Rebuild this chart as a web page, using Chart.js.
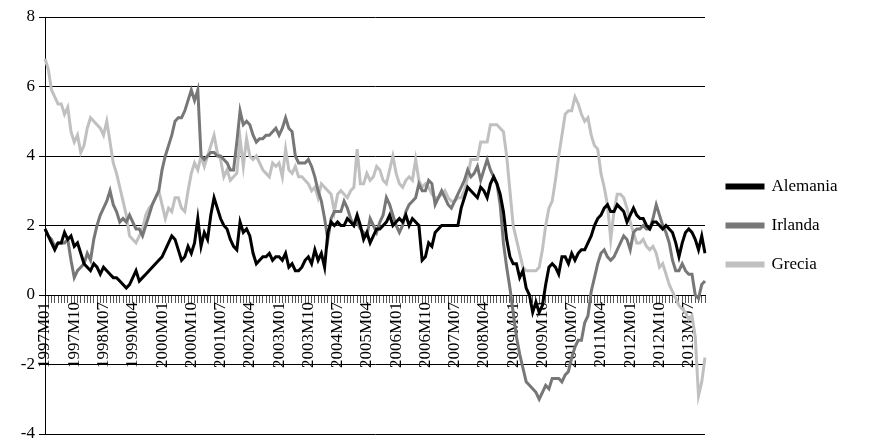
<!DOCTYPE html>
<html><head><meta charset="utf-8">
<script src="https://cdn.jsdelivr.net/npm/chart.js@4"></script>
<style>html,body{margin:0;padding:0;background:#fff}#w{width:880px;height:443px}</style>
</head><body><div id="w"><canvas id="c"></canvas></div>
<script>
const years = [1997,1998,1999,2000,2001,2002,2003,2004,2005,2006,2007,2008,2009,2010,2011,2012,2013];
const categories = [];
years.forEach(y=>{for(let m=1;m<=12;m++)categories.push(y+'M'+(m<10?'0':'')+m);});
const alemania = [
1.9,1.7,1.5,1.3,1.5,1.5,1.8,1.6,1.7,1.4,1.5,1.2,
0.9,0.8,0.7,0.9,0.8,0.6,0.8,0.7,0.6,0.5,0.5,0.4,
0.3,0.2,0.3,0.5,0.7,0.4,0.5,0.6,0.7,0.8,0.9,1.0,
1.1,1.3,1.5,1.7,1.6,1.3,1.0,1.1,1.4,1.2,1.5,2.2,
1.4,1.8,1.6,2.3,2.8,2.5,2.2,2.0,1.9,1.6,1.4,1.3,
2.1,1.8,1.9,1.7,1.2,0.9,1.0,1.1,1.1,1.2,1.0,1.1,
1.1,1.0,1.2,0.8,0.9,0.7,0.7,0.8,1.0,1.1,0.9,1.3,
1.0,1.2,0.8,1.8,2.1,2.0,2.1,2.0,2.0,2.2,2.1,2.0,
2.3,2.0,1.6,1.8,1.5,1.7,1.9,1.9,2.0,2.1,2.3,2.0,
2.1,2.2,2.1,2.3,2.0,2.2,2.1,2.0,1.0,1.1,1.5,1.4,
1.8,1.9,2.0,2.0,2.0,2.0,2.0,2.0,2.5,2.8,3.1,3.0,
2.9,2.8,3.1,3.0,2.8,3.2,3.4,3.2,2.9,2.4,1.6,1.1,
0.9,0.9,0.5,0.7,0.2,0.0,-0.5,-0.2,-0.5,-0.3,0.3,0.8,
0.9,0.8,0.6,1.1,1.1,0.9,1.2,1.0,1.2,1.3,1.3,1.5,
1.7,2.0,2.2,2.3,2.5,2.6,2.4,2.4,2.6,2.5,2.4,2.1,
2.3,2.5,2.3,2.2,2.2,2.0,1.9,2.1,2.1,2.0,1.9,2.0,
1.9,1.8,1.5,1.1,1.5,1.8,1.9,1.8,1.6,1.3,1.7,1.2];
const irlanda = [
1.9,1.7,1.6,1.4,1.5,1.5,1.5,1.6,1.0,0.5,0.7,0.8,
0.9,1.2,1.0,1.6,2.0,2.3,2.5,2.7,3.0,2.6,2.4,2.1,
2.2,2.1,2.3,2.1,1.9,1.9,1.7,2.0,2.3,2.6,2.8,3.0,
3.6,4.0,4.3,4.6,5.0,5.1,5.1,5.3,5.6,5.9,5.6,5.9,
4.0,3.9,4.0,4.1,4.1,4.0,4.0,3.9,3.8,3.6,3.6,4.4,
5.3,4.9,5.0,4.9,4.6,4.4,4.5,4.5,4.6,4.6,4.7,4.8,
4.6,4.8,5.1,4.8,4.7,4.0,3.8,3.8,3.8,3.9,3.7,3.4,
3.0,2.7,2.2,1.6,2.2,2.4,2.4,2.4,2.7,2.5,2.2,2.0,
2.1,1.9,1.8,1.7,2.2,2.0,1.8,2.1,2.3,2.8,2.6,2.3,
2.0,1.8,2.0,2.4,2.6,2.7,2.8,3.2,3.0,3.0,3.3,3.2,
2.6,2.8,3.0,2.8,2.6,2.5,2.7,2.9,3.1,3.3,3.6,3.4,
3.5,3.7,3.3,3.6,3.9,3.6,3.4,3.2,2.6,1.5,0.8,0.2,
-0.5,-1.2,-1.7,-2.1,-2.5,-2.6,-2.7,-2.8,-3.0,-2.8,-2.6,-2.7,
-2.4,-2.4,-2.4,-2.5,-2.3,-2.2,-1.8,-1.5,-1.3,-1.3,-0.8,-0.6,
0.1,0.5,0.9,1.2,1.3,1.1,1.0,1.1,1.3,1.5,1.7,1.6,
1.3,1.8,1.9,1.9,2.0,1.9,1.9,2.2,2.6,2.3,2.0,1.8,
1.5,1.0,0.7,0.7,0.9,0.7,0.6,0.6,0.0,-0.1,0.3,0.4];
const grecia = [
6.8,6.5,5.9,5.7,5.5,5.5,5.2,5.4,4.7,4.4,4.6,4.1,
4.3,4.8,5.1,5.0,4.9,4.8,4.6,5.0,4.4,3.8,3.5,3.1,
2.7,2.3,1.7,1.6,1.5,1.7,1.9,2.3,2.5,2.6,2.8,3.0,
2.6,2.2,2.5,2.4,2.8,2.8,2.5,2.4,3.0,3.5,3.8,3.6,
4.0,3.7,4.0,4.3,4.6,4.1,3.9,3.4,3.6,3.3,3.4,3.5,
4.5,3.7,4.5,4.0,3.9,4.0,3.8,3.6,3.5,3.4,3.8,3.7,
3.8,3.4,4.2,3.6,3.5,3.7,3.4,3.4,3.3,3.2,3.0,3.1,
2.8,3.2,3.1,3.0,2.9,2.4,2.9,3.0,2.9,2.8,3.0,3.1,
4.2,3.2,3.2,3.5,3.3,3.4,3.7,3.6,3.3,3.2,3.6,4.0,
3.5,3.2,3.1,3.3,3.4,3.3,3.9,3.3,3.1,3.2,3.1,2.9,
2.8,2.8,2.9,3.0,2.8,2.7,2.7,2.8,2.8,3.0,3.4,3.9,
3.9,3.9,4.4,4.4,4.4,4.9,4.9,4.9,4.8,4.7,4.0,3.0,
2.0,1.6,1.2,0.8,0.7,0.7,0.7,0.7,0.8,1.3,2.0,2.5,
2.7,3.3,4.0,4.6,5.2,5.3,5.3,5.7,5.5,5.2,5.0,5.1,
4.6,4.3,4.2,3.5,3.1,2.6,1.6,2.4,2.9,2.9,2.8,2.5,
2.1,1.8,1.5,1.5,1.6,1.4,1.3,1.4,1.2,0.8,0.9,0.6,
0.3,0.1,-0.1,-0.3,-0.4,-0.5,-0.7,-0.6,-1.2,-2.9,-2.5,-1.8];
const yTicks = [-4,-2,0,2,4,6,8];
const font = {family:'"Liberation Serif", "Times New Roman", serif', size:17};
const mk = (label,data,color)=>({label,data,borderColor:color,backgroundColor:color,borderWidth:3,pointRadius:0,tension:0,fill:false});
const widenLegend = {id:'widenLegend', beforeLayout(chart){
  const lg=chart.legend; if(lg && !lg._wrapped){const f=lg.fit.bind(lg); lg.fit=function(){f(); this.width=175; this.right=this.left+175;}; lg._wrapped=true;}
}};
new Chart(document.getElementById('c'),{
 type:'line',
 data:{labels:categories,datasets:[mk('Alemania',alemania,'#000000'),mk('Irlanda',irlanda,'#777777'),mk('Grecia',grecia,'#c0c0c0')]},
 plugins:[widenLegend],
 options:{
  responsive:true,maintainAspectRatio:false,animation:false,
  layout:{padding:{top:17,bottom:9,left:0,right:0}},
  plugins:{tooltip:{enabled:false},
   legend:{position:'right',align:'center',labels:{color:'#000',font,boxWidth:36,boxHeight:3,padding:22}}},
  scales:{
   x:{position:{y:0},offset:false,
      grid:{drawOnChartArea:false,color:'#000',tickLength:7,tickColor:'#555'},
      border:{color:'#000',width:1},
      ticks:{autoSkip:false,maxRotation:90,minRotation:90,color:'#000',font,padding:0,
        callback:(v,i)=> i%9===0 ? categories[i] : ''}},
   y:{min:-4,max:8,afterBuildTicks:ax=>{ax.ticks=yTicks.map(v=>({value:v}));},
      afterFit:ax=>{ax.width=45;ax.paddingTop=0;ax.paddingBottom=0;},
      grid:{color:'#000',lineWidth:1,drawTicks:true,tickLength:6},
      border:{color:'#000'},
      ticks:{color:'#000',font,padding:4}}
  }
 }
});
</script></body></html>
